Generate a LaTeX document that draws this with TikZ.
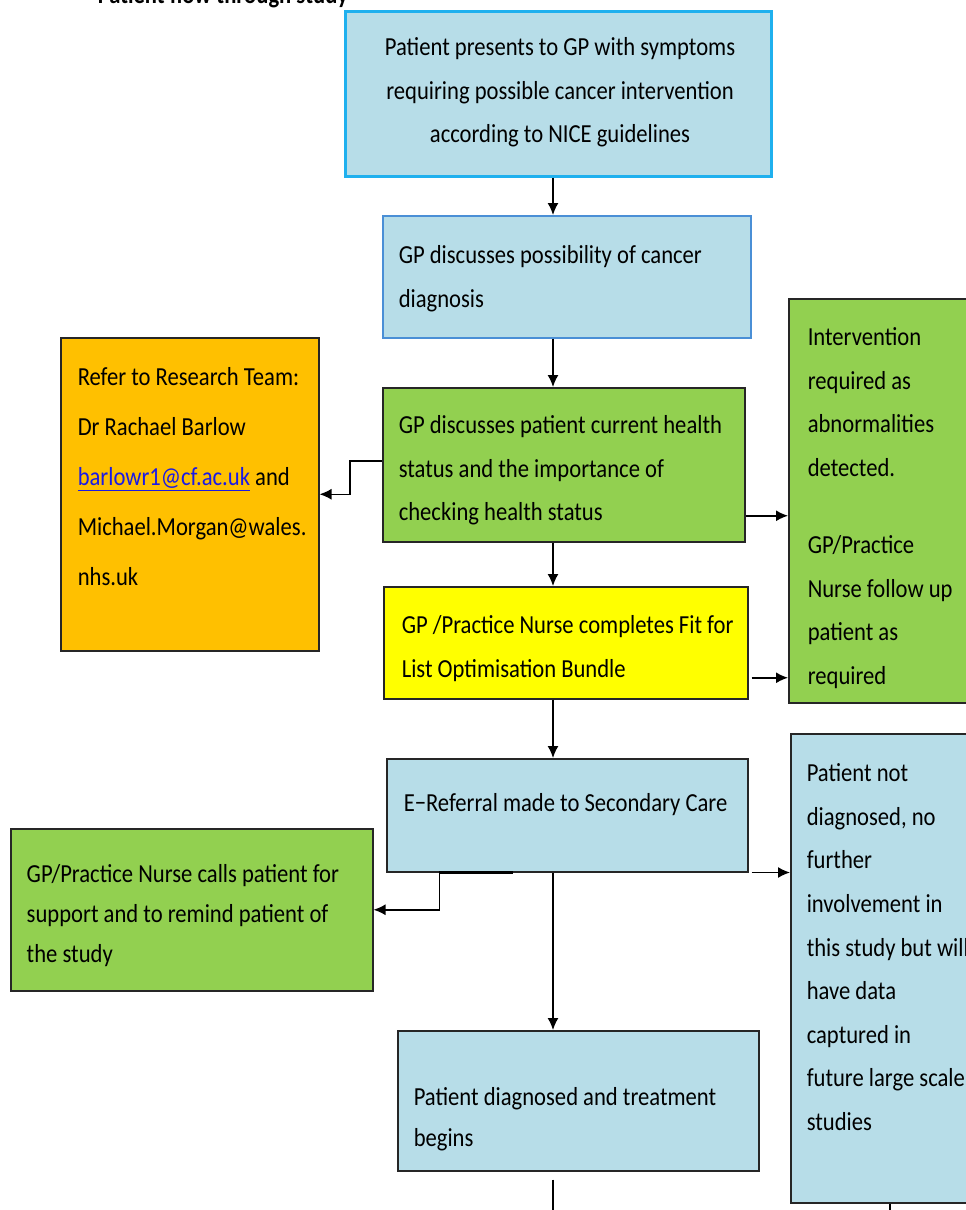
\documentclass[tikz,border=0pt]{standalone}
\usepackage{fontspec}
\setmainfont{Carlito}[FakeStretch=0.87]
\usetikzlibrary{arrows.meta}
\definecolor{boxblue}{HTML}{B7DDE8}
\definecolor{edgecyan}{HTML}{1FB0EE}
\definecolor{edgeblue}{HTML}{4A8FD6}
\definecolor{boxgreen}{HTML}{92D050}
\definecolor{boxorange}{HTML}{FFC000}
\definecolor{boxyellow}{HTML}{FFFF00}
\definecolor{linkblue}{HTML}{1A1AE6}
\newcommand{\firstline}{\rule{0pt}{22pt}}
\tikzset{
  box/.style={draw=black!85, line width=1.5pt, anchor=north west, inner sep=0pt},
  txt/.style={anchor=north west, inner sep=0pt, align=left, yshift=-4pt,
    font=\fontsize{26}{43.5}\selectfont, execute at begin node=\firstline},
}
\begin{document}
\begin{tikzpicture}[x=1pt, y=-1pt, >={Latex[length=12pt,width=11pt]}, line width=1.5pt]
  \useasboundingbox (0,0) rectangle (966,1210);
  \clip (0,0) rectangle (966,1210);
  % 見出し (上端で切れている)
  \node[txt, font=\fontsize{26}{30}\selectfont\bfseries] (title) at (97,-23) {Patient flow through study};
  % 中央の流れ
  \node[box, fill=boxblue, draw=edgecyan, line width=2.5pt, minimum width=426pt, minimum height=165pt] (present) at (344,10) {};
  \node[txt, anchor=north, align=center] (present-t) at (560,33) {Patient presents to GP with symptoms\\requiring possible cancer intervention\\according to NICE guidelines};
  \node[box, fill=boxblue, draw=edgeblue, minimum width=368pt, minimum height=122pt] (discuss) at (382,215) {};
  \node[txt] (discuss-t) at (398,241) {GP discusses possibility of cancer\\diagnosis};
  \node[box, fill=boxgreen, minimum width=362pt, minimum height=154pt] (health) at (382,387) {};
  \node[txt] (health-t) at (398,411) {GP discusses patient current health\\status and the importance of\\checking health status};
  \node[box, fill=boxyellow, minimum width=364pt, minimum height=112pt] (bundle) at (383,586) {};
  \node[txt] (bundle-t) at (401,611) {GP /Practice Nurse completes Fit for\\List Optimisation Bundle};
  \node[box, fill=boxblue, minimum width=361pt, minimum height=113pt] (referral) at (386,758) {};
  \node[txt] (referral-t) at (403,785) {E−Referral made to Secondary Care};
  \node[box, fill=boxblue, minimum width=361pt, minimum height=140pt] (diagnosed) at (397,1030) {};
  \node[txt, font=\fontsize{26}{41}\selectfont] (diagnosed-t) at (413,1083) {Patient diagnosed and treatment\\begins};
  % 左側
  \node[box, fill=boxorange, minimum width=258pt, minimum height=313pt] (team) at (60,337) {};
  \node[txt, font=\fontsize{26}{50}\selectfont] (team-t) at (77,363) {Refer to Research Team:\\Dr Rachael Barlow\\\textcolor{linkblue}{\underline{barlowr1@cf.ac.uk}} and\\Michael.Morgan@wales.\\nhs.uk};
  \node[box, fill=boxgreen, minimum width=362pt, minimum height=162pt] (calls) at (10,828) {};
  \node[txt, font=\fontsize{26}{40}\selectfont] (calls-t) at (26,860) {GP/Practice Nurse calls patient for\\support and to remind patient of\\the study};
  % 右側 (右端で切れている)
  \node[box, fill=boxgreen, minimum width=200pt, minimum height=404pt] (followup) at (788,298) {};
  \node[txt] (followup-t) at (807,323) {Intervention\\required as\\abnormalities\\detected.\\[34pt]GP/Practice\\Nurse follow up\\patient as\\required};
  \node[box, fill=boxblue, minimum width=200pt, minimum height=469pt] (notdiag) at (790,733) {};
  \node[txt, font=\fontsize{26}{43.6}\selectfont] (notdiag-t) at (806,759) {Patient not\\diagnosed, no\\further\\involvement in\\this study but will\\have data\\captured in\\future large scale\\studies};
  % 矢印
  \coordinate (spine) at (553,0);
  \coordinate (rline) at (890,0);
  \coordinate (pageend) at (0,1215);
  \draw[->] (present.south -| spine) -- (discuss.north -| spine);
  \draw[->] (discuss.south -| spine) -- (health.north -| spine);
  \draw[->] (health.south -| spine) -- (bundle.north -| spine);
  \draw[->] (bundle.south -| spine) -- (referral.north -| spine);
  \draw[->] (referral.south -| spine) -- (diagnosed.north -| spine);
  \draw ([yshift=-8pt]diagnosed.south -| spine) -- (pageend -| spine);
  \draw (notdiag.south -| rline) -- (pageend -| rline);
  \draw[->] ([yshift=4pt]health.west) -- ++(-32,0) |- (team.east);
  \draw[->] ([yshift=-51pt]health.east) -- ([yshift=-51pt]health.east -| followup.west);
  \draw[->] ([xshift=3pt,yshift=-35pt]bundle.east) -- ([yshift=-35pt]bundle.east -| followup.west);
  \draw[->] ([xshift=3pt]referral.south east) -- (referral.south east -| notdiag.west);
  \draw[line width=3.5pt] ([xshift=-128pt]referral.south) -- ([xshift=-54pt]referral.south);
  \draw[->] ([xshift=-128pt]referral.south) |- (calls.east);
\end{tikzpicture}
\end{document}
